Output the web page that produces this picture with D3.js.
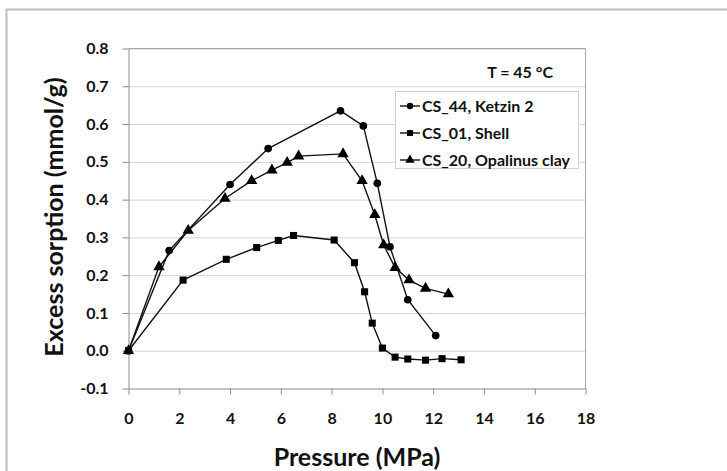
<!DOCTYPE html>
<html lang="en">
<head>
  <meta charset="utf-8">
  <script src="https://d3js.org/d3.v7.min.js"></script>
  <title>Excess sorption vs pressure</title>
  <style>
    body { margin: 0; background: #fff; }
    svg { display: block; }
    .tick text { font-family: Lato, "Open Sans", sans-serif; font-weight: bold; font-size: 16px; fill: #111; }
    .axis path, .axis line { stroke: #8c8c8c; }
    .grid line { stroke: #d4d4d4; }
    .grid path { display: none; }
    .title { font-family: Lato, "Open Sans", sans-serif; font-weight: bold; font-size: 25px; fill: #111; }
    .legend text { font-family: Lato, "Open Sans", sans-serif; font-weight: bold; font-size: 16px; fill: #111; }
  </style>
</head>
<body>
<svg id="chart" width="727" height="471"></svg>
<script>
// tick values
var xTicks = [0, 2, 4, 6, 8, 10, 12, 14, 16, 18];
var yTicks = [-0.1, 0.0, 0.1, 0.2, 0.3, 0.4, 0.5, 0.6, 0.7, 0.8];

// CS_44, Ketzin 2 (circles)
var ketzinP = [0, 1.6, 4.0, 5.5, 8.35, 9.25, 9.8, 10.3, 11.0, 12.1];
var ketzinV = [0, 0.265, 0.44, 0.535, 0.635, 0.595, 0.443, 0.275, 0.135, 0.04];

// CS_01, Shell (squares)
var shellP = [0, 2.15, 3.85, 5.05, 5.9, 6.5, 8.1, 8.9, 9.3, 9.6, 10.0, 10.5, 11.0, 11.7, 12.35, 13.1];
var shellV = [0, 0.187, 0.242, 0.273, 0.292, 0.305, 0.293, 0.233, 0.156, 0.073, 0.007, -0.017, -0.022, -0.025, -0.021, -0.024];

// CS_20, Opalinus clay (triangles)
var opaP = [0, 1.2, 2.35, 3.8, 4.85, 5.65, 6.25, 6.7, 8.45, 9.2, 9.7, 10.05, 10.5, 11.05, 11.7, 12.6];
var opaV = [0, 0.222, 0.318, 0.403, 0.45, 0.478, 0.498, 0.515, 0.521, 0.45, 0.36, 0.28, 0.22, 0.187, 0.165, 0.15];

var seriesNames = ["CS_44, Ketzin 2", "CS_01, Shell", "CS_20, Opalinus clay"];

var series = [
  { name: seriesNames[0], shape: d3.symbolCircle, size: 46, p: ketzinP, v: ketzinV },
  { name: seriesNames[1], shape: d3.symbolSquare, size: 50, p: shellP, v: shellV },
  { name: seriesNames[2], shape: d3.symbolTriangle, size: 56, p: opaP, v: opaV }
];

var svg = d3.select("#chart");
var pLeft = 128.5, pRight = 585.5, pTop = 48.5, pBottom = 388.5;

var x = d3.scaleLinear().domain([0, 18]).range([pLeft, pRight]);
var y = d3.scaleLinear().domain([-0.1, 0.8]).range([pBottom, pTop]);

// outer frame
svg.append("rect").attr("x", 6.5).attr("y", 9.5).attr("width", 740).attr("height", 480)
  .attr("fill", "#fff").attr("stroke", "#bdbdbd").attr("stroke-width", 2);

// horizontal gridlines
svg.append("g").attr("class", "grid")
  .attr("transform", "translate(" + pLeft + ",0)")
  .call(d3.axisLeft(y).tickValues(yTicks.slice(1)).tickSize(-(pRight - pLeft)).tickFormat(""));

// plot border top/right
svg.append("path").attr("d", "M" + pLeft + "," + pTop + "H" + pRight + "V" + pBottom)
  .attr("fill", "none").attr("stroke", "#a6a6a6");

// axes
svg.append("g").attr("class", "axis")
  .attr("transform", "translate(0," + pBottom + ")")
  .call(d3.axisBottom(x).tickValues(xTicks).tickSize(6).tickSizeOuter(0).tickPadding(18).tickFormat(d3.format("d")));

// excel style hyphen minus
svg.append("g").attr("class", "axis")
  .attr("transform", "translate(" + pLeft + ",0)")
  .call(d3.axisLeft(y).tickValues(yTicks).tickSize(6).tickSizeOuter(0).tickPadding(14)
    .tickFormat(function(d) { return d.toFixed(1); }));

// titles
svg.append("text").attr("class", "title")
  .attr("x", (pLeft + pRight) / 2).attr("y", 466).attr("text-anchor", "middle")
  .text("Pressure (MPa)");

svg.append("text").attr("class", "title")
  .attr("transform", "translate(63," + 217 + ") rotate(-90)")
  .attr("text-anchor", "middle")
  .text("Excess sorption (mmol/g)");

svg.append("text").attr("class", "title")
  .attr("x", 553).attr("y", 78).attr("text-anchor", "end")
  .style("font-size", "16px")
  .text("T = 45 °C");

// lines and markers
var line = d3.line().x(function(d) { return x(d[0]); }).y(function(d) { return y(d[1]); });

series.forEach(function(s) {
  var pts = s.p.map(function(p, i) { return [p, s.v[i]]; });
  svg.append("path").datum(pts).attr("d", line)
    .attr("fill", "none").attr("stroke", "#111").attr("stroke-width", 1.4);
  svg.append("g").selectAll("path").data(pts).enter().append("path")
    .attr("transform", function(d) { return "translate(" + x(d[0]) + "," + y(d[1]) + ")"; })
    .attr("d", d3.symbol().type(s.shape).size(s.size))
    .attr("fill", "#000");
});

// legend
var lg = svg.append("g").attr("class", "legend");
lg.append("rect").attr("x", 395.5).attr("y", 91.5).attr("width", 183).attr("height", 77)
  .attr("fill", "#fff").attr("stroke", "#d0d0d0");
series.forEach(function(s, i) {
  var yy = 106 + i * 27;
  lg.append("line").attr("x1", 400).attr("x2", 420).attr("y1", yy).attr("y2", yy)
    .attr("stroke", "#111").attr("stroke-width", 1.4);
  lg.append("path").attr("transform", "translate(410," + yy + ")")
    .attr("d", d3.symbol().type(s.shape).size(s.size * 0.7)).attr("fill", "#000");
  lg.append("text").attr("x", 422).attr("y", yy + 5.5).text(s.name);
});
</script>
</body>
</html>
